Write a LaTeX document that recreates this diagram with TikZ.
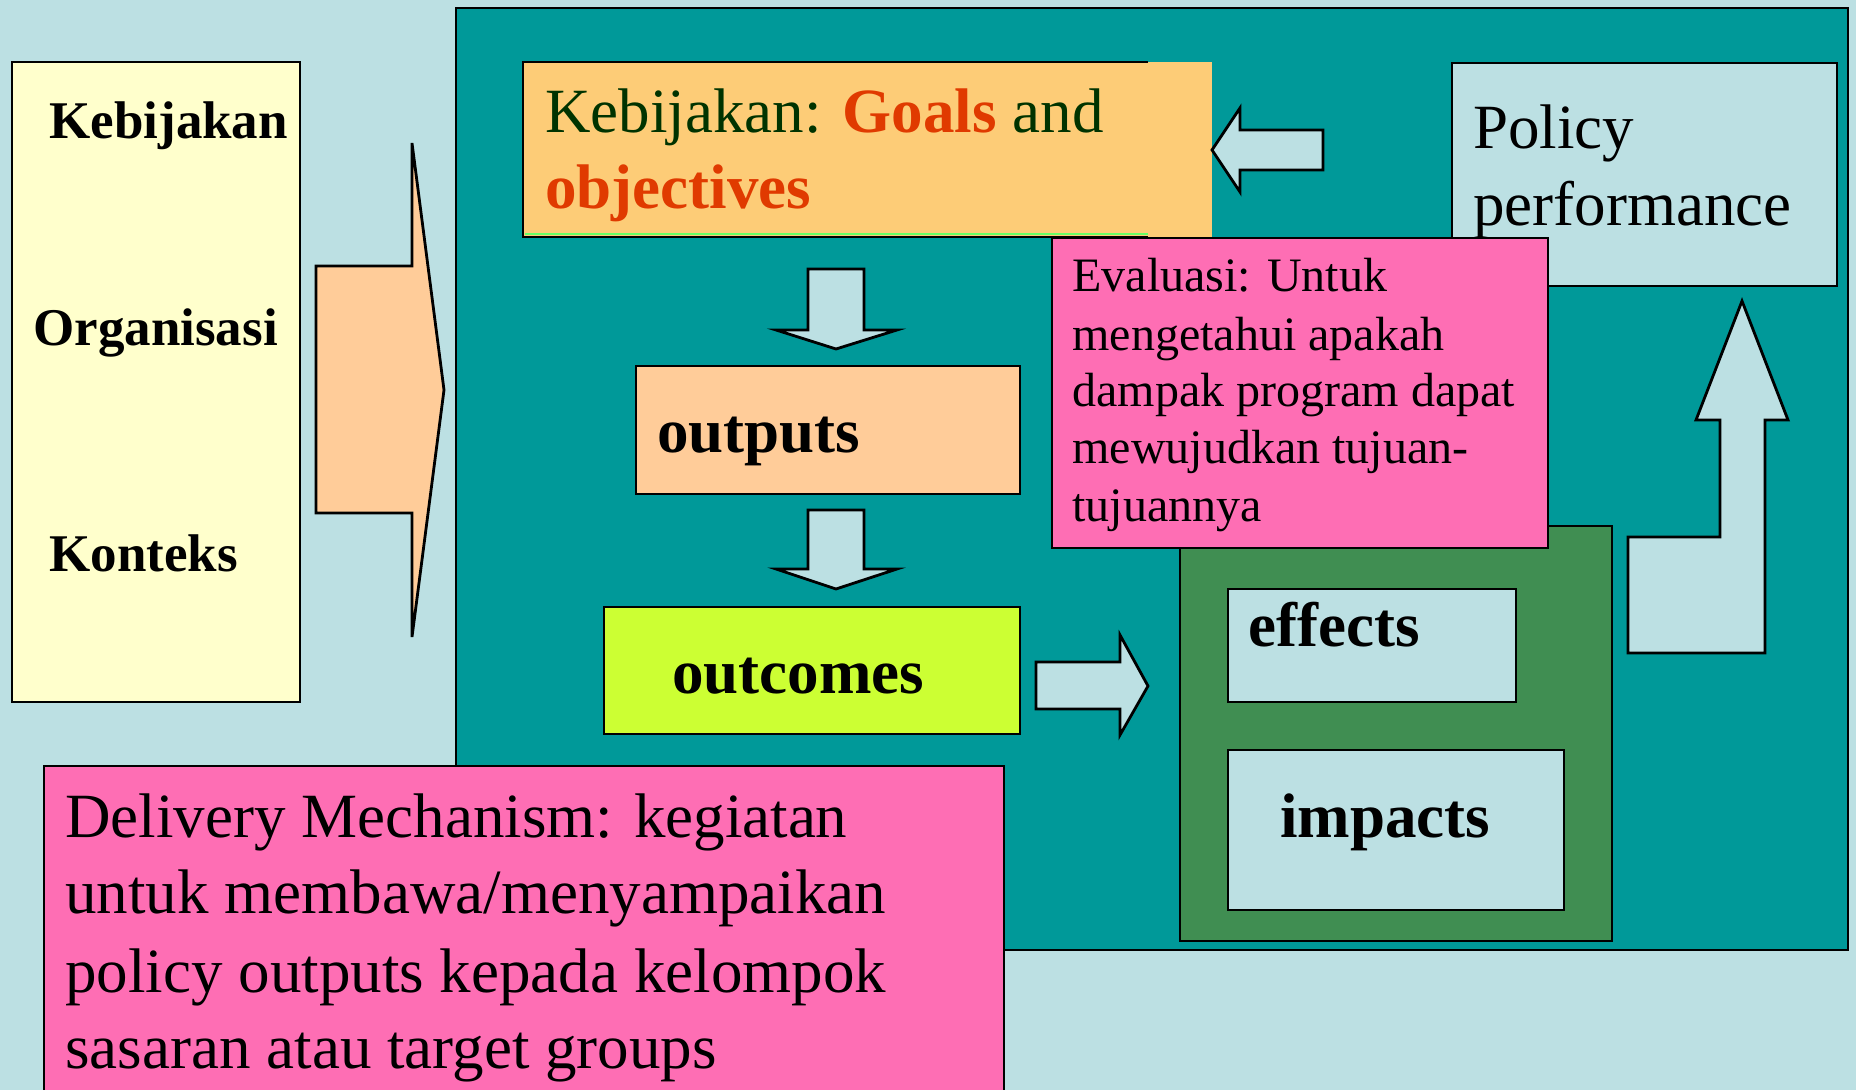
\documentclass[tikz,border=0pt]{standalone}
\usepackage{fontspec}
\setmainfont{Liberation Serif}
\usetikzlibrary{fit}
\definecolor{bgblue}{RGB}{188,224,227}
\definecolor{tealmain}{RGB}{0,153,153}
\definecolor{lyellow}{RGB}{255,255,204}
\definecolor{peach}{RGB}{255,204,153}
\definecolor{orangebox}{RGB}{253,204,119}
\definecolor{limebox}{RGB}{204,255,51}
\definecolor{greenbox}{RGB}{64,142,82}
\definecolor{pinkbox}{RGB}{254,110,180}
\definecolor{goalred}{RGB}{224,58,0}
\definecolor{dkgreen}{RGB}{0,51,0}
\definecolor{lightgreenline}{RGB}{102,255,102}
\newcommand\fsA{\fontsize{31.5pt}{38pt}\selectfont}
\newcommand\fsB{\fontsize{26.5pt}{32pt}\selectfont}
\newcommand\fsC{\fontsize{24pt}{28pt}\selectfont}
\begin{document}
\begin{tikzpicture}[x=0.5pt,y=-0.5pt,
  box/.style={draw=black, line width=1.4pt, inner sep=0pt},
  blockarrow/.style={draw=black, line width=1.4pt, fill=bgblue, line join=miter},
  lbl/.style={anchor=base west, inner sep=0pt}]
\fill[bgblue] (0,0) rectangle (1856,1090);
\useasboundingbox (0,0) rectangle (1856,1090);

% main teal panel
\node[box, fill=tealmain, fit={(456,8) (1848,950)}] (main) {};

% left factors box
\node[box, fill=lyellow, fit={(12,62) (300,702)}] (factors) {};
\node[lbl, font=\fsB\bfseries] (tKeb) at (49,139) {Kebijakan};
\node[lbl, font=\fsB\bfseries] (tOrg) at (33,346) {Organisasi};
\node[lbl, font=\fsB\bfseries] (tKon) at (49,571) {Konteks};

% big peach arrow
\draw[blockarrow, fill=peach] (316,266) -- (412,266) -- (412,143) -- (444,390) -- (412,637) -- (412,513) -- (316,513) -- cycle;

% goals box
\fill[orangebox] (523,62) rectangle (1212,237);
\node[inner sep=0pt, fit={(523,62) (1212,237)}] (goals) {};
\draw[lightgreenline, line width=0.8pt] (525,234) -- (1148,234);
\draw[line width=1.4pt] (1148,62) -- (523,62) -- (523,237) -- (1148,237);
\node[lbl, font=\fsA] (g1) at (545,133) {\textcolor{dkgreen}{Kebijakan: }\textcolor{goalred}{\bfseries Goals} \textcolor{dkgreen}{and}};
\node[lbl, font=\fsA\bfseries, text=goalred] (g2) at (545,209) {objectives};

% arrow performance -> goals
\draw[blockarrow] (1212,150) -- (1240,108) -- (1240,130) -- (1323,130) -- (1323,170) -- (1240,170) -- (1240,192) -- cycle;

% policy performance
\node[box, fill=bgblue, fit={(1452,63) (1837,286)}] (perf) {};
\node[lbl, font=\fsA] (p1) at (1473,149) {Policy};
\node[lbl, font=\fsA] (p2) at (1473,226) {performance};

% down arrows
\draw[blockarrow] (808,269) -- (864,269) -- (864,330) -- (897,330) -- (836,349) -- (776,330) -- (808,330) -- cycle;
\node[box, fill=peach, fit={(636,366) (1020,494)}] (outputs) {};
\node[lbl, font=\fsA\bfseries] (to) at (657,452) {outputs};
\draw[blockarrow] (808,510) -- (864,510) -- (864,569) -- (897,569) -- (836,589) -- (776,569) -- (808,569) -- cycle;
\node[box, fill=limebox, fit={(604,607) (1020,734)}] (outcomes) {};
\node[lbl, font=\fsA\bfseries] (toc) at (672,693) {outcomes};

% right arrow
\draw[blockarrow] (1036,662) -- (1120,662) -- (1120,635) -- (1148,686) -- (1120,735) -- (1120,709) -- (1036,709) -- cycle;

% green group
\node[box, fill=greenbox, fit={(1180,526) (1612,941)}] (group) {};
\node[box, fill=bgblue, fit={(1228,589) (1516,702)}] (effects) {};
\node[lbl, font=\fsA\bfseries] (tef) at (1248,646) {effects};
\node[box, fill=bgblue, fit={(1228,750) (1564,910)}] (impacts) {};
\node[lbl, font=\fsA\bfseries] (tim) at (1280,837) {impacts};

% evaluasi (on top of performance and group)
\node[box, fill=pinkbox, fit={(1052,238) (1548,548)}] (eval) {};
\node[lbl, font=\fsC] (e1) at (1072,292) {Evaluasi: Untuk};
\node[lbl, font=\fsC] (e2) at (1072,351) {mengetahui apakah};
\node[lbl, font=\fsC] (e3) at (1072,407) {dampak program dapat};
\node[lbl, font=\fsC] (e4) at (1072,464) {mewujudkan tujuan-};
\node[lbl, font=\fsC] (e5) at (1072,521) {tujuannya};

% bent up arrow
\draw[blockarrow] (1628,537) -- (1720,537) -- (1720,420) -- (1696,420) -- (1742,301) -- (1788,420) -- (1765,420) -- (1765,653) -- (1628,653) -- cycle;

% delivery mechanism
\node[box, fill=pinkbox, fit={(44,766) (1004,1110)}] (deliv) {};
\node[lbl, font=\fsA] (d1) at (65,837) {Delivery Mechanism: kegiatan};
\node[lbl, font=\fsA] (d2) at (65,913) {untuk membawa/menyampaikan};
\node[lbl, font=\fsA] (d3) at (65,992) {policy outputs kepada kelompok};
\node[lbl, font=\fsA] (d4) at (65,1068) {sasaran atau target groups};
\end{tikzpicture}
\end{document}
